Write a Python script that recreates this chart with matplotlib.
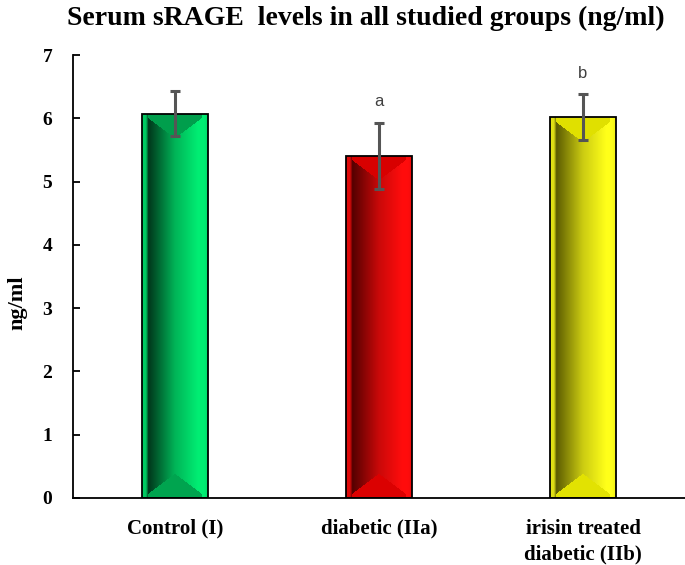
import numpy as np
import matplotlib
matplotlib.use("Agg")
import matplotlib.pyplot as plt

categories = ["Control (I)", "diabetic (IIa)", "irisin treated\ndiabetic (IIb)"]
values = [6.07, 5.41, 6.02]
errors = [0.355, 0.52, 0.36]
sig_labels = ["", "a", "b"]
yticks = [0, 1, 2, 3, 4, 5, 6, 7]

# bright / dark / mid tones per bar
bright = [(0.0, 0.93, 0.45), (1.0, 0.05, 0.05), (1.0, 1.0, 0.1)]
dark = [(0.0, 0.18, 0.09), (0.30, 0.0, 0.0), (0.33, 0.33, 0.0)]
mid = [(0.0, 0.62, 0.30), (0.85, 0.0, 0.0), (0.88, 0.88, 0.0)]

serif = ["Liberation Serif", "DejaVu Serif"]

fig = plt.figure(figsize=(6.85, 5.65), dpi=100)
ax = fig.add_axes([73 / 685, 67 / 565, 612 / 685, 443 / 565])

x = np.arange(len(categories))
bars = ax.bar(x, values, width=0.32, color=mid, edgecolor="none", zorder=2)

ax.set_xlim(-0.5, 2.5)
ax.set_ylim(0, 7)

px_per_unit = 443 / 7.0
for i, b in enumerate(bars):
    x0, w, h = b.get_x(), b.get_width(), b.get_height()
    W = 66
    H = max(int(h * px_per_unit), 10)
    cols = (np.arange(W) + 0.5) / W
    s = np.interp(cols, [0.0, 0.06, 0.1, 0.5, 0.85, 0.94, 1.0],
                  [0.85, 0.8, 0.05, 0.7, 1.0, 1.0, 0.9])
    img = np.zeros((H, W, 3))
    bc, dc, mc = np.array(bright[i]), np.array(dark[i]), np.array(mid[i])
    for r in range(H):
        img[r] = dc + (bc - dc) * s[:, None]
    rows = np.arange(H)[:, None]
    tri = 0.75 * np.minimum(cols, 1 - cols)[None, :] * W
    top_mask = rows < tri
    bot_mask = (H - rows) < tri
    inner = (cols[None, :] > 0.09) & (cols[None, :] < 0.91)
    img[top_mask & inner] = mc
    img[bot_mask & inner] = mc * 0.92 + bc * 0.08
    im = ax.imshow(img, extent=(x0, x0 + w, 0, h), aspect="auto", zorder=2.5,
                   interpolation="bilinear")
    im.set_clip_path(b)

ax.bar(x, values, width=0.32, color="none", edgecolor="black", linewidth=1.3, zorder=3)
ax.errorbar(x, values, yerr=errors, fmt="none", ecolor="#555555", elinewidth=2.2,
            capsize=3.8, capthick=2.2, zorder=4)
for xi, v, e, lab in zip(x, values, errors, sig_labels):
    if lab:
        ax.text(xi, v + e + 0.33, lab, ha="center", va="center", fontsize=12,
                color="#404040", family=["Liberation Sans", "DejaVu Sans"])

ax.set_xlim(-0.5, 2.5)
ax.set_ylim(0, 7)
ax.set_aspect("auto")

for sp in ["top", "right"]:
    ax.spines[sp].set_visible(False)
for sp in ["left", "bottom"]:
    ax.spines[sp].set_linewidth(1.3)
    ax.spines[sp].set_color("black")

ax.set_yticks(yticks)
ax.set_yticklabels([str(t) for t in yticks], family=serif, fontweight="bold", fontsize=14)
ax.tick_params(axis="y", direction="in", length=5, width=1.3, pad=15)
ax.set_xticks(x)
ax.set_xticklabels(categories, family=serif, fontweight="bold", fontsize=15,
                   linespacing=1.4)
ax.tick_params(axis="x", length=0, pad=15)

ax.set_ylabel("ng/ml", family=serif, fontweight="bold", fontsize=16)
ax.yaxis.set_label_coords(-0.075, 0.44)

fig.text(366 / 685, 1 - 18 / 565, "Serum sRAGE  levels in all studied groups (ng/ml)",
         ha="center", va="center", family=serif, fontweight="bold", fontsize=20)

fig.savefig("out.png", dpi=100)
